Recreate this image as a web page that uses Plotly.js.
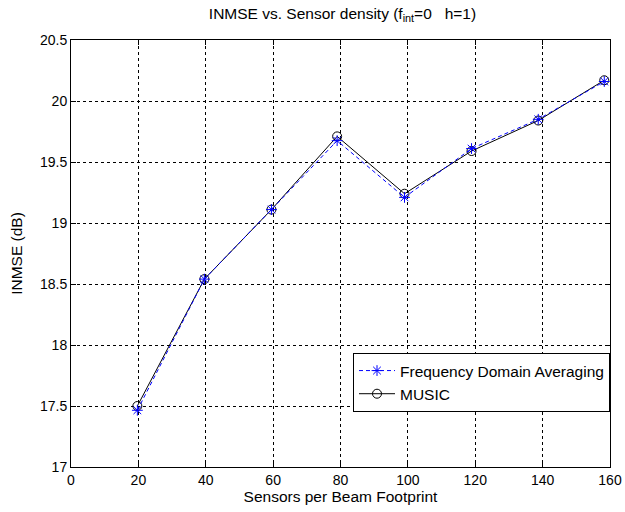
<!DOCTYPE html>
<html>
<head>
<meta charset="utf-8">
<script src="https://cdn.plot.ly/plotly-3.0.1.min.js"></script>
<style>html,body{margin:0;padding:0;background:#fff;}#chart{width:625px;height:512px;}</style>
</head>
<body>
<div id="chart"></div>
<script>
// Data
var sensors = [19.7, 39.6, 59.5, 79.0, 99.0, 118.9, 138.7, 158.3];
var fdaInmse = [17.465, 18.54, 19.11, 19.675, 19.21, 19.61, 19.85, 20.16];
var musicInmse = [17.50, 18.54, 19.11, 19.71, 19.24, 19.59, 19.84, 20.17];
var seriesNames = ["Frequency Domain Averaging", "MUSIC"];
var xTicks = [0, 20, 40, 60, 80, 100, 120, 140, 160];
var yTicks = [17, 17.5, 18, 18.5, 19, 19.5, 20, 20.5];

var tickFont = "Arial, 'Liberation Sans', sans-serif";
var textFont = "Arial, 'Liberation Sans', sans-serif";

var traces = [
  {
    x: sensors, y: musicInmse, name: seriesNames[1], type: "scatter", mode: "lines+markers",
    line: {color: "#000000", width: 1, dash: "solid"},
    marker: {symbol: "circle-open", size: 9, color: "#000000", line: {width: 1, color: "#000000"}},
    legendrank: 2
  },
  {
    x: sensors, y: fdaInmse, name: seriesNames[0], type: "scatter", mode: "lines+markers",
    line: {color: "#0000ff", width: 1, dash: "4px,3px"},
    marker: {symbol: "asterisk-open", size: 9, color: "#0000ff", line: {width: 1, color: "#0000ff"}},
    legendrank: 1
  }
];

var axisCommon = {
  showline: true, linecolor: "#000000", linewidth: 1, mirror: "ticks",
  ticks: "inside", ticklen: 5, tickcolor: "#000000", tickwidth: 1,
  showgrid: true, gridcolor: "#000000", gridwidth: 1, griddash: "3px,3px",
  zeroline: false, tickfont: {family: tickFont, size: 14, color: "#000000"}
};

var layout = {
  width: 625, height: 512,
  margin: {l: 71, r: 15, t: 40, b: 45},
  paper_bgcolor: "#ffffff", plot_bgcolor: "#ffffff",
  font: {family: textFont, size: 15.5, color: "#000000"},
  title: {text: "INMSE vs. Sensor density (f<sub>int</sub>=0\u00A0\u00A0\u00A0h=1)", font: {family: textFont, size: 15.5, color: "#000000"}, x: 0.548, xanchor: "center", y: 0.985, yanchor: "top"},
  xaxis: Object.assign({}, axisCommon, {
    range: [0, 160], tickvals: xTicks, ticktext: xTicks.map(String),
    title: {text: "Sensors per Beam Footprint", font: {family: textFont, size: 15.5, color: "#000000"}, standoff: 3}
  }),
  yaxis: Object.assign({}, axisCommon, {
    range: [17, 20.5], tickvals: yTicks, ticktext: yTicks.map(String),
    title: {text: "INMSE (dB)", font: {family: textFont, size: 15.5, color: "#000000"}, standoff: 13}
  }),
  showlegend: true,
  legend: {
    x: 1, xanchor: "right", y: 0.267, yanchor: "top",
    bgcolor: "#ffffff", bordercolor: "#000000", borderwidth: 1,
    font: {family: textFont, size: 15.5, color: "#000000"},
    tracegroupgap: 0, itemwidth: 36
  }
};

Plotly.newPlot("chart", traces, layout, {displayModeBar: false, staticPlot: true});
</script>
</body>
</html>
